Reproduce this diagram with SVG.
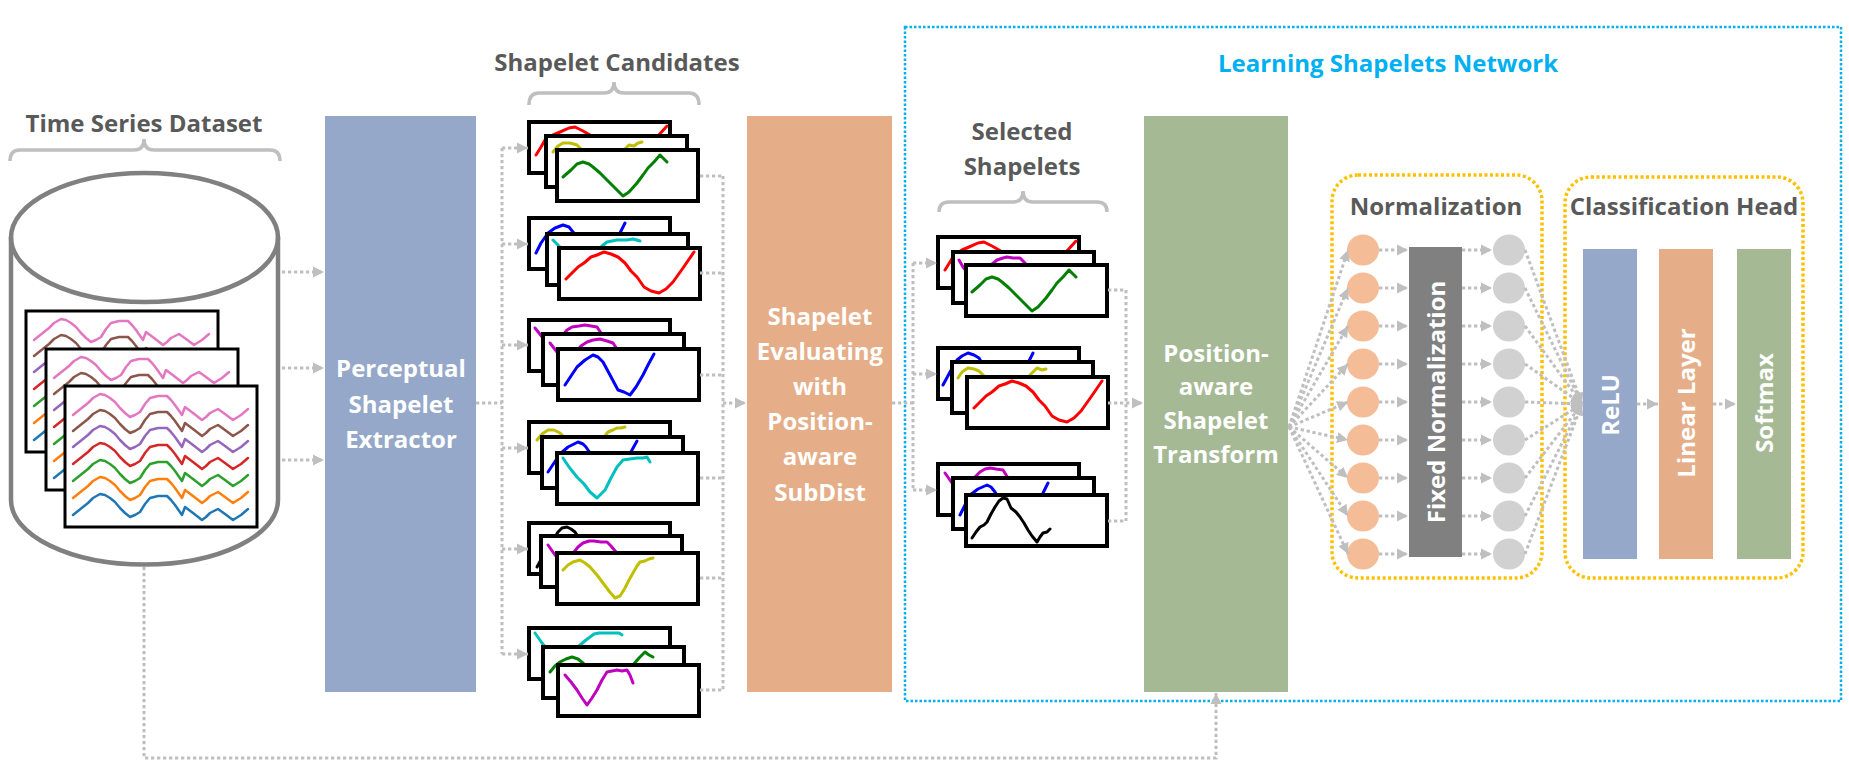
<svg xmlns="http://www.w3.org/2000/svg" xmlns:xlink="http://www.w3.org/1999/xlink" width="1849" height="780" viewBox="0 0 1849 780">
<style>
.lbl{font-family:"Open Sans","Liberation Sans",sans-serif;font-weight:700;font-size:24px;fill:#595959;text-anchor:middle}
.wt{font-family:"Open Sans","Liberation Sans",sans-serif;font-weight:700;font-size:24px;fill:#ffffff;text-anchor:middle}
.ttl{font-family:"Open Sans","Liberation Sans",sans-serif;font-weight:700;font-size:24px;fill:#00b0f0;text-anchor:middle}
.fr{fill:#fff;stroke:#000;stroke-width:4}
.c{fill:none;stroke-width:3;stroke-linejoin:round;stroke-linecap:round}
.ts{fill:none;stroke-width:2.5;stroke-linejoin:round;stroke-linecap:round}
.con{fill:none;stroke:#bfbfbf;stroke-width:3;stroke-dasharray:3.3 2.7}
.arr{marker-end:url(#ah)}
.brk{fill:none;stroke:#bfbfbf;stroke-width:3.5}
.yb{fill:none;stroke:#ffc000;stroke-width:3.5;stroke-dasharray:3 2.5}
.r{stroke:#ff0000}.y{stroke:#bfbf00}.g{stroke:#008000}.b{stroke:#0000ff}.cy{stroke:#00bfbf}.m{stroke:#bf00bf}.k{stroke:#000}
.oc{fill:#f4bd97}.gc{fill:#d1d1d1}
</style>
<defs>
<marker id="ah" markerUnits="userSpaceOnUse" markerWidth="12" markerHeight="12" viewBox="0 0 12 12" refX="11" refY="6" orient="auto">
<path d="M0,0.5 L11,6 L0,11.5 z" fill="#bfbfbf"/>
</marker>
<path id="wave" d="M8,0 L13,-4 L18,-8 L23,-12 L28,-17 L35,-21 L40,-20 L45,-17 L50,-13 L55,-7 L60,-2 L65,2 L70,0 L75,-3 L80,-11 L85,-17 L93,-19 L102,-19 L106,-15 L110,-10 L117,0 L120,-8 L128,-2 L137,5 L141,2 L145,-2 L153,-6 L160,-1 L168,5 L176,0 L183,-6"/>
<g id="ts">
<rect width="192" height="141" fill="#fff" stroke="#000" stroke-width="3"/>
<use xlink:href="#wave" class="ts" stroke="#e377c2" transform="translate(0,29)"/>
<use xlink:href="#wave" class="ts" stroke="#8c564b" transform="translate(0,45)"/>
<use xlink:href="#wave" class="ts" stroke="#9467bd" transform="translate(0,61)"/>
<use xlink:href="#wave" class="ts" stroke="#d62728" transform="translate(0,78)"/>
<use xlink:href="#wave" class="ts" stroke="#2ca02c" transform="translate(0,95)"/>
<use xlink:href="#wave" class="ts" stroke="#ff7f0e" transform="translate(0,112)"/>
<use xlink:href="#wave" class="ts" stroke="#1f77b4" transform="translate(0,129)"/>
</g>
<path id="redA" d="M7,33 L12,25 L16,18 L24,13 L31,10 L40,6 L46,5 L54,9 L61,13 L70,20 L80,30 L90,40 L100,45 L110,42 L120,28 L128,15 L138,4"/>
<path id="greenA" d="M6,27 L14,20 L20,14 L26,12 L32,14 L36,17 L43,23 L50,30 L58,38 L66,46 L72,42 L80,33 L86,25 L91,18 L97,12 L103,5 L106,8 L110,12"/>
<path id="redB" d="M7,31 L13,25 L19,19 L25,15 L32,9 L38,7 L45,4 L52,6 L59,9 L66,15 L72,23 L78,29 L85,39 L92,43 L100,45 L107,41 L114,34 L124,20 L135,4"/>
</defs>

<rect width="1849" height="780" fill="#fff"/>

<!-- Learning Shapelets Network container -->
<g id="lsn">
<rect x="905" y="27" width="936" height="674" fill="none" stroke="#00b0f0" stroke-width="2.5" stroke-dasharray="2.5 2"/>
<text class="ttl" x="1388" y="72">Learning Shapelets Network</text>
</g>

<!-- Dataset -->
<g id="dataset">
<text class="lbl" x="144" y="132">Time Series Dataset</text>
<path class="brk" d="M10,161 Q10,150 20,150 H134 Q144,150 144,139 Q144,150 154,150 H270 Q280,150 280,161"/>
<path d="M11,237 V500 A133.5,64.5 0 0 0 278,500 V237" fill="none" stroke="#808080" stroke-width="4.5"/>
<ellipse cx="144.5" cy="237.5" rx="133.5" ry="64.5" fill="none" stroke="#808080" stroke-width="4.5"/>
<use xlink:href="#ts" x="26" y="311"/>
<use xlink:href="#ts" x="46" y="349"/>
<use xlink:href="#ts" x="65" y="386"/>
</g>

<!-- Perceptual Shapelet Extractor -->
<g id="extractor">
<rect x="325" y="116" width="151" height="576" fill="#95a8c9"/>
<text class="wt" x="401" y="377">Perceptual</text>
<text class="wt" x="401" y="413">Shapelet</text>
<text class="wt" x="401" y="448">Extractor</text>
</g>

<!-- Shapelet Candidates -->
<g id="candidates">
<text class="lbl" x="617" y="71">Shapelet Candidates</text>
<path class="brk" d="M529,105 Q529,93 539,93 H604 Q614,93 614,82 Q614,93 624,93 H689 Q699,93 699,105"/>
<g transform="translate(529,122)">
<rect class="fr" width="141" height="51"/><use xlink:href="#redA" class="c r"/>
<g transform="translate(17,14)"><rect class="fr" width="141" height="51"/><path class="c y" d="M7,16 L12,10 L17,7 L24,7 L31,9 L36,14 L45,25 L55,38 L62,45 L70,35 L78,14 L83,9 L88,10 L92,7 L96,6"/></g>
<g transform="translate(28,28)"><rect class="fr" width="141" height="51"/><use xlink:href="#greenA" class="c g"/></g>
</g>
<g transform="translate(529,218)">
<rect class="fr" width="141" height="51"/><path class="c b" d="M7,35 L12,25 L19,15 L26,10 L34,7 L40,9 L44,14 L55,28 L65,40 L75,35 L85,22 L91,15 L96,5"/>
<g transform="translate(18,16)"><rect class="fr" width="141" height="51"/><path class="c cy" d="M6,6 L12,12 L20,22 L30,32 L37,35 L45,25 L55,12 L60,8 L70,6 L80,6 L86,5 L93,7"/></g>
<g transform="translate(30,30)"><rect class="fr" width="141" height="51"/><use xlink:href="#redB" class="c r"/></g>
</g>
<g transform="translate(529,320)">
<rect class="fr" width="141" height="51"/><path class="c m" d="M6,8 L14,18 L22,26 L30,20 L38,10 L43,7 L50,6 L56,5 L62,6 L68,7 L74,16 L80,28"/>
<g transform="translate(14,14)"><rect class="fr" width="141" height="51"/><path class="c m" d="M7,9 L14,18 L22,25 L30,22 L38,12 L44,8 L50,6 L57,5 L64,7 L70,9 L76,18 L82,28"/></g>
<g transform="translate(29,29)"><rect class="fr" width="141" height="51"/><path class="c b" d="M7,36 L13,27 L19,18 L27,11 L35,6 L40,8 L45,13 L52,26 L60,41 L66,43 L72,46 L78,38 L85,26 L90,16 L96,5"/></g>
</g>
<g transform="translate(529,422)">
<rect class="fr" width="141" height="51"/><path class="c y" d="M8,18 L13,12 L19,8 L25,8 L31,11 L40,20 L50,35 L60,38 L70,25 L76,14 L79,10 L84,8 L88,6 L92,6 L96,5"/>
<g transform="translate(13,15)"><rect class="fr" width="141" height="51"/><path class="c b" d="M6,35 L12,26 L18,17 L26,10 L36,5 L41,7 L44,10 L52,22 L62,36 L70,40 L80,30 L90,13 L95,4"/></g>
<g transform="translate(28,31)"><rect class="fr" width="141" height="51"/><path class="c cy" d="M6,5 L12,14 L20,24 L27,31 L33,39 L40,45 L48,37 L54,25 L60,14 L66,7 L73,6 L80,5 L86,5 L90,4 L93,9"/></g>
</g>
<g transform="translate(529,523)">
<rect class="fr" width="141" height="51"/><path class="c k" d="M8,44 L14,33 L20,22 L26,14 L29,9 L33,5 L38,4 L42,6 L46,9 L52,18 L58,30 L65,40"/>
<g transform="translate(12,13)"><rect class="fr" width="141" height="51"/><path class="c m" d="M7,9 L14,19 L22,26 L30,20 L37,11 L42,7 L48,5 L53,5 L60,6 L66,6 L70,10 L75,16 L80,26"/></g>
<g transform="translate(28,30)"><rect class="fr" width="141" height="51"/><path class="c y" d="M6,17 L11,12 L16,9 L23,7 L28,10 L33,14 L40,22 L46,30 L52,38 L58,45 L63,43 L68,35 L72,27 L76,20 L80,13 L83,9 L88,8 L92,6 L96,5"/></g>
</g>
<g transform="translate(529,628)">
<rect class="fr" width="141" height="51"/><path class="c cy" d="M6,5 L13,15 L20,24 L30,30 L40,28 L50,18 L57,12 L61,9 L65,6 L70,5 L76,5 L84,5 L90,5 L93,7"/>
<g transform="translate(14,19)"><rect class="fr" width="141" height="51"/><path class="c g" d="M7,25 L12,19 L17,15 L23,12 L29,10 L35,12 L40,16 L50,26 L60,33 L72,32 L82,26 L90,18 L96,11 L102,5 L106,8 L110,10"/></g>
<g transform="translate(29,37)"><rect class="fr" width="141" height="51"/><path class="c m" d="M7,10 L13,17 L19,25 L24,33 L29,40 L34,33 L39,25 L44,15 L49,7 L54,6 L59,5 L64,6 L69,5 L72,10 L75,18"/></g>
</g>
</g>

<!-- Shapelet Evaluating -->
<g id="evaluator">
<rect x="747" y="116" width="145" height="576" fill="#e5ae88"/>
<text class="wt" x="820" y="325">Shapelet</text>
<text class="wt" x="820" y="360">Evaluating</text>
<text class="wt" x="820" y="395">with</text>
<text class="wt" x="820" y="430">Position-</text>
<text class="wt" x="820" y="465">aware</text>
<text class="wt" x="820" y="501">SubDist</text>
</g>

<!-- Selected Shapelets -->
<g id="selected">
<text class="lbl" x="1022" y="140">Selected</text>
<text class="lbl" x="1022" y="175">Shapelets</text>
<path class="brk" d="M939,212 Q939,202 949,202 H1013 Q1023,202 1023,191 Q1023,202 1033,202 H1097 Q1107,202 1107,212"/>
<g transform="translate(938,237)">
<rect class="fr" width="141" height="51"/><use xlink:href="#redA" class="c r"/>
<g transform="translate(15,15)"><rect class="fr" width="141" height="51"/><path class="c m" d="M6,8 L10,15 L18,25 L28,25 L38,13 L44,8 L50,6 L54,5 L60,6 L67,6 L72,11 L78,22"/></g>
<g transform="translate(28,28)"><rect class="fr" width="141" height="51"/><use xlink:href="#greenA" class="c g"/></g>
</g>
<g transform="translate(938,348)">
<rect class="fr" width="141" height="51"/><path class="c b" d="M5,37 L12,24 L19,12 L24,8 L30,5 L36,7 L41,10 L50,25 L60,38 L72,40 L82,28 L90,15 L95,5"/>
<g transform="translate(14,14)"><rect class="fr" width="141" height="51"/><path class="c y" d="M6,16 L10,10 L16,6 L22,7 L27,9 L32,14 L42,28 L55,40 L65,38 L72,25 L78,13 L82,9 L85,6 L90,8 L94,7"/></g>
<g transform="translate(29,29)"><rect class="fr" width="141" height="51"/><use xlink:href="#redB" class="c r"/></g>
</g>
<g transform="translate(938,464)">
<rect class="fr" width="141" height="51"/><path class="c m" d="M7,9 L14,19 L22,26 L32,20 L38,12 L42,8 L47,5 L52,4 L58,5 L65,6 L70,14 L75,24"/>
<g transform="translate(15,14)"><rect class="fr" width="141" height="51"/><path class="c b" d="M7,37 L12,27 L17,17 L25,11 L34,7 L38,9 L42,14 L50,28 L60,40 L72,40 L82,28 L90,15 L95,5"/></g>
<g transform="translate(28,31)"><rect class="fr" width="141" height="51"/><path class="c k" d="M6,43 L10,37 L14,32 L18,30 L21,27 L25,19 L29,12 L33,6 L37,3 L41,4 L45,13 L50,17 L54,22 L58,28 L62,35 L66,41 L71,47 L74,42 L77,38 L81,37 L84,34"/></g>
</g>
</g>

<!-- Position-aware Shapelet Transform -->
<g id="transform">
<rect x="1144" y="116" width="144" height="576" fill="#a5b995"/>
<text class="wt" x="1216" y="362">Position-</text>
<text class="wt" x="1216" y="395">aware</text>
<text class="wt" x="1216" y="429">Shapelet</text>
<text class="wt" x="1216" y="463">Transform</text>
</g>

<!-- Normalization -->
<g id="normalization">
<rect class="yb" x="1332" y="175" width="210" height="403" rx="26"/>
<text class="lbl" x="1436" y="215">Normalization</text>
<rect x="1409" y="247" width="53" height="310" fill="#808080"/>
<text class="wt" transform="translate(1445,402) rotate(-90)">Fixed Normalization</text>
<g class="oc">
<ellipse cx="1363" cy="250" rx="16" ry="15.5"/><ellipse cx="1363" cy="288" rx="16" ry="15.5"/><ellipse cx="1363" cy="326" rx="16" ry="15.5"/>
<ellipse cx="1363" cy="364" rx="16" ry="15.5"/><ellipse cx="1363" cy="402" rx="16" ry="15.5"/><ellipse cx="1363" cy="440" rx="16" ry="15.5"/>
<ellipse cx="1363" cy="478" rx="16" ry="15.5"/><ellipse cx="1363" cy="516" rx="16" ry="15.5"/><ellipse cx="1363" cy="554" rx="16" ry="15.5"/>
</g>
<g class="gc">
<ellipse cx="1509" cy="250" rx="16" ry="15.5"/><ellipse cx="1509" cy="288" rx="16" ry="15.5"/><ellipse cx="1509" cy="326" rx="16" ry="15.5"/>
<ellipse cx="1509" cy="364" rx="16" ry="15.5"/><ellipse cx="1509" cy="402" rx="16" ry="15.5"/><ellipse cx="1509" cy="440" rx="16" ry="15.5"/>
<ellipse cx="1509" cy="478" rx="16" ry="15.5"/><ellipse cx="1509" cy="516" rx="16" ry="15.5"/><ellipse cx="1509" cy="554" rx="16" ry="15.5"/>
</g>
</g>

<!-- Classification Head -->
<g id="classification">
<rect class="yb" x="1565" y="177" width="238" height="401" rx="26"/>
<text class="lbl" x="1684" y="215">Classification Head</text>
<rect x="1583" y="249" width="54" height="310" fill="#95a8c9"/>
<text class="wt" transform="translate(1619,405) rotate(-90)">ReLU</text>
<rect x="1659" y="249" width="54" height="310" fill="#e5ae88"/>
<text class="wt" transform="translate(1695,403) rotate(-90)">Linear Layer</text>
<rect x="1737" y="249" width="54" height="310" fill="#a5b995"/>
<text class="wt" transform="translate(1773,403) rotate(-90)">Softmax</text>
</g>

<!-- Connectors -->
<g id="connectors">
<path class="con arr" d="M282,272 H324"/>
<path class="con arr" d="M282,368 H324"/>
<path class="con arr" d="M282,460 H324"/>
<path class="con" d="M476,403 H502"/>
<path class="con" d="M502,148 V654"/>
<path class="con arr" d="M502,148 H528"/>
<path class="con arr" d="M502,244 H528"/>
<path class="con arr" d="M502,345 H528"/>
<path class="con arr" d="M502,448 H528"/>
<path class="con arr" d="M502,549 H528"/>
<path class="con arr" d="M502,654 H528"/>
<path class="con" d="M700,176 H723"/>
<path class="con" d="M700,273 H723"/>
<path class="con" d="M700,375 H723"/>
<path class="con" d="M700,478 H723"/>
<path class="con" d="M700,578 H723"/>
<path class="con" d="M700,690 H723"/>
<path class="con" d="M723,176 V690"/>
<path class="con arr" d="M723,403 H746"/>
<path class="con" d="M892,403 H913"/>
<path class="con" d="M913,263 V490"/>
<path class="con arr" d="M913,263 H937"/>
<path class="con arr" d="M913,374 H937"/>
<path class="con arr" d="M913,490 H937"/>
<path class="con" d="M1108,290 H1126"/>
<path class="con" d="M1108,403 H1126"/>
<path class="con" d="M1108,521 H1126"/>
<path class="con" d="M1126,290 V521"/>
<path class="con arr" d="M1126,403 H1143"/>
<path class="con arr" d="M1289,427 L1348,250"/>
<path class="con arr" d="M1289,427 L1348,288"/>
<path class="con arr" d="M1289,427 L1348,326"/>
<path class="con arr" d="M1289,427 L1348,364"/>
<path class="con arr" d="M1289,427 L1348,402"/>
<path class="con arr" d="M1289,427 L1348,440"/>
<path class="con arr" d="M1289,427 L1348,478"/>
<path class="con arr" d="M1289,427 L1348,516"/>
<path class="con arr" d="M1289,427 L1348,554"/>
<path class="con arr" d="M1379,250 H1408"/>
<path class="con arr" d="M1379,288 H1408"/>
<path class="con arr" d="M1379,326 H1408"/>
<path class="con arr" d="M1379,364 H1408"/>
<path class="con arr" d="M1379,402 H1408"/>
<path class="con arr" d="M1379,440 H1408"/>
<path class="con arr" d="M1379,478 H1408"/>
<path class="con arr" d="M1379,516 H1408"/>
<path class="con arr" d="M1379,554 H1408"/>
<path class="con arr" d="M1462,250 H1492"/>
<path class="con arr" d="M1462,288 H1492"/>
<path class="con arr" d="M1462,326 H1492"/>
<path class="con arr" d="M1462,364 H1492"/>
<path class="con arr" d="M1462,402 H1492"/>
<path class="con arr" d="M1462,440 H1492"/>
<path class="con arr" d="M1462,478 H1492"/>
<path class="con arr" d="M1462,516 H1492"/>
<path class="con arr" d="M1462,554 H1492"/>
<path class="con arr" d="M1525,250 L1582,404"/>
<path class="con arr" d="M1525,288 L1582,404"/>
<path class="con arr" d="M1525,326 L1582,404"/>
<path class="con arr" d="M1525,364 L1582,404"/>
<path class="con arr" d="M1525,402 L1582,404"/>
<path class="con arr" d="M1525,440 L1582,404"/>
<path class="con arr" d="M1525,478 L1582,404"/>
<path class="con arr" d="M1525,516 L1582,404"/>
<path class="con arr" d="M1525,554 L1582,404"/>
<path class="con arr" d="M1637,404 H1658"/>
<path class="con arr" d="M1713,404 H1736"/>
<path class="con arr" d="M144,567 V758 H1216 V693"/>
</g>
</svg>
